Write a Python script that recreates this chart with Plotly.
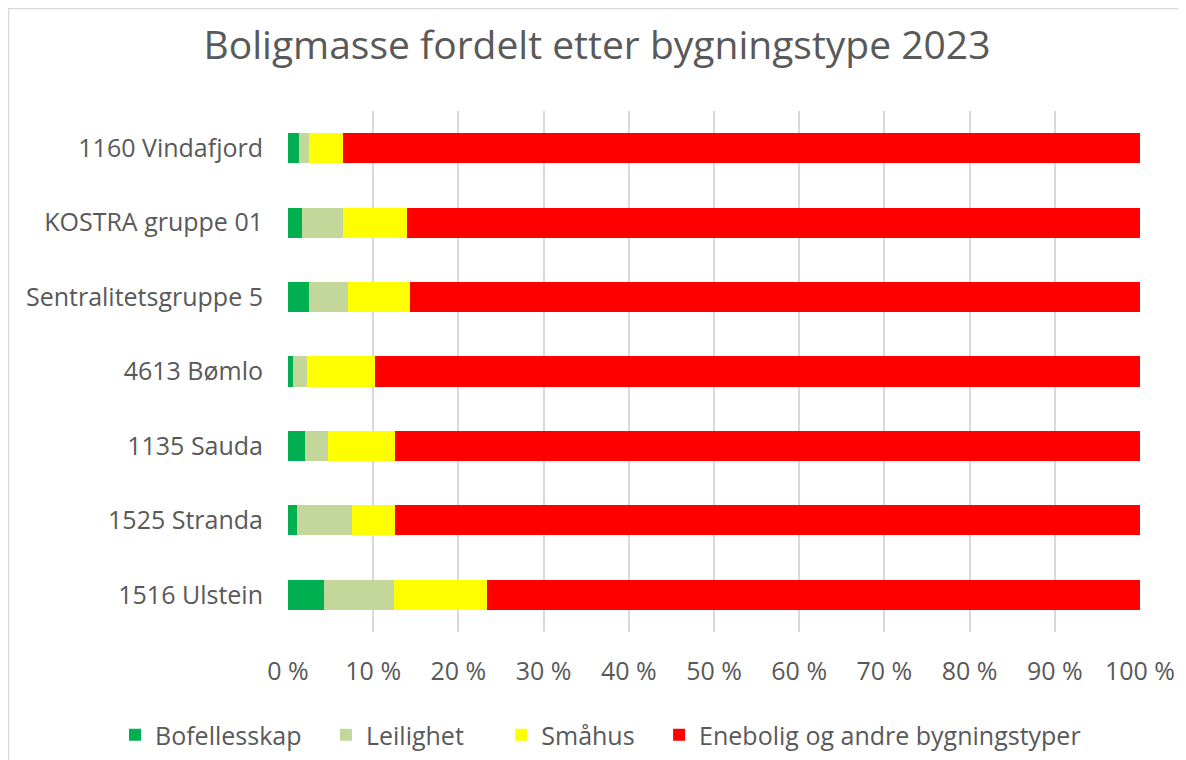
import plotly.graph_objects as go

categories = ["1160 Vindafjord", "KOSTRA gruppe 01", "Sentralitetsgruppe 5",
              "4613 Bømlo", "1135 Sauda", "1525 Stranda", "1516 Ulstein"]
bofellesskap = [1.3, 1.6, 2.5, 0.6, 2.0, 1.1, 4.2]
leilighet = [1.2, 4.8, 4.6, 1.6, 2.7, 6.4, 8.2]
smahus = [3.9, 7.6, 7.2, 8.0, 7.9, 5.1, 11.0]
enebolig = [93.6, 86.0, 85.7, 89.8, 87.4, 87.4, 76.6]
series_names = ["Bofellesskap", "Leilighet", "Småhus", "Enebolig og andre bygningstyper"]
series_colors = ["#00B050", "#C4D79B", "#FFFF00", "#FF0000"]
tick_vals = [0, 10, 20, 30, 40, 50, 60, 70, 80, 90, 100]
tick_text = [f"{v} %" for v in tick_vals]

series_values = [bofellesskap, leilighet, smahus, enebolig]
legend_pads = [3, 5, 3, 0]

fig = go.Figure()
for name, vals, color, npad in zip(series_names, series_values, series_colors, legend_pads):
    fig.add_trace(go.Bar(
        y=categories, x=vals, name=name + "\u00a0" * npad, orientation="h",
        marker=dict(color=color, line=dict(width=0)),
    ))

# page has an 8px body margin, so figure coords = page coords - 8
W, H = 1178, 752
L, R, T, B = 280, 46, 103, 128
pw, ph = W - L - R, H - T - B

def px_x(p):
    return (p - L) / pw

def px_y(p):
    return (H - B - p) / ph

fig.update_layout(
    width=W, height=H,
    barmode="stack", bargap=0.596,
    margin=dict(l=L, r=R, t=T, b=B, autoexpand=False),
    paper_bgcolor="white", plot_bgcolor="white",
    font=dict(family="Open Sans", color="#595959", size=25),
    title=dict(text="Boligmasse fordelt etter bygningstype 2023",
               x=0.5, xanchor="center", y=1 - 37 / H, yanchor="middle",
               font=dict(size=39, color="#595959")),
    xaxis=dict(range=[0, 100], tickvals=tick_vals, ticktext=tick_text,
               showgrid=True, gridcolor="#D9D9D9", gridwidth=1.5,
               zeroline=False, showline=False, ticks="",
               ticklabelstandoff=22,
               tickfont=dict(size=25, color="#595959")),
    yaxis=dict(categoryorder="array", categoryarray=categories,
               autorange="reversed", showgrid=False, ticks="",
               ticklabelstandoff=24,
               tickfont=dict(size=25, color="#595959")),
    legend=dict(orientation="h", x=px_x(107), xanchor="left",
                y=px_y(727), yanchor="middle",
                font=dict(size=25, color="#595959"),
                traceorder="normal", itemwidth=30),
    shapes=[dict(type="rect", xref="paper", yref="paper",
                 x0=px_x(0.5), x1=px_x(1190), y0=px_y(765), y1=px_y(0.5),
                 line=dict(color="#D9D9D9", width=1.5), layer="below")],
)

fig.write_html("out.html")
